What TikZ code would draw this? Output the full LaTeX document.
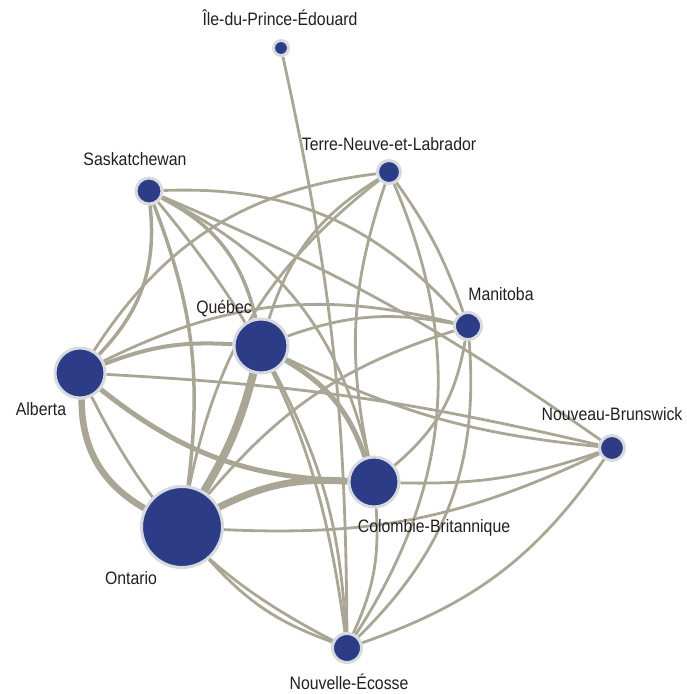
\documentclass[tikz,border=0pt]{standalone}
\usepackage{fontspec}
\setmainfont{Liberation Sans}[FakeStretch=0.88]
\usetikzlibrary{backgrounds}
\definecolor{edgegray}{RGB}{170,166,150}
\definecolor{nodeblue}{RGB}{44,60,135}
\definecolor{ringgray}{RGB}{214,218,222}
\definecolor{labelink}{RGB}{35,31,32}
\begin{document}
\begin{tikzpicture}[x=1pt,y=-1pt,
  prov/.style={circle,fill=nodeblue,draw=ringgray,line width=3pt,inner sep=0pt,minimum size=#1},
  lbl/.style={font=\fontsize{18}{18}\selectfont,text=labelink,inner sep=0pt,anchor=base},
  link/.style={draw=edgegray,line width=#1},
  link/.default=2.8pt]
\useasboundingbox (0,0) rectangle (686,694);

% provinces
\node[prov=15pt] (pe) at (281,48) {};
\node[prov=23pt] (tn) at (389,172) {};
\node[prov=26pt] (sk) at (149,191) {};
\node[prov=27pt] (mb) at (468,326) {};
\node[prov=54pt] (qc) at (261,346) {};
\node[prov=50pt] (ab) at (80,373) {};
\node[prov=25pt] (nb) at (612,448) {};
\node[prov=50pt] (bc) at (374,482) {};
\node[prov=81pt] (on) at (182,527) {};
\node[prov=29pt] (ns) at (347,648) {};

% labels
\node[lbl] (pel) at (280,25) {Île-du-Prince-Édouard};
\node[lbl] (tnl) at (389,150) {Terre-Neuve-et-Labrador};
\node[lbl] (skl) at (135,165) {Saskatchewan};
\node[lbl] (mbl) at (501,300) {Manitoba};
\node[lbl] (qcl) at (224,313) {Québec};
\node[lbl] (abl) at (41,415) {Alberta};
\node[lbl] (nbl) at (612,420) {Nouveau-Brunswick};
\node[lbl] (bcl) at (434,532) {Colombie-Britannique};
\node[lbl] (onl) at (131,584) {Ontario};
\node[lbl] (nsl) at (349,689) {Nouvelle-Écosse};

% links between provinces
\begin{scope}[on background layer]
  % heavy links
  \draw[link=8pt] (qc) to[bend left=8] (on);
  \draw[link=6.5pt] (on) to[bend left=30] (ab);
  \draw[link=7pt] (on) to[bend left=15] (bc);
  \draw[link=5pt] (bc) to[bend left=18] (ab);
  \draw[link=5pt] (qc) to[bend left=20] (bc);
  \draw[link=4pt] (ab) to[bend left=12] (qc);
  \draw[link=3.5pt] (sk) to[bend left=25] (ab);
  % Saskatchewan
  \draw[link=3.5pt] (sk) to[bend left=14] (on);
  \draw[link=3.5pt] (sk) to[bend left=25] (qc);
  \draw[link] (sk) to[bend left=25] (bc);
  \draw[link] (sk) to[bend left=16] (ns);
  \draw[link] (sk) to[bend left=25] (mb);
  \draw[link] (sk) to[bend left=6] (nb);
  % Terre-Neuve-et-Labrador
  \draw[link] (ab) to[bend left=25] (tn);
  \draw[link] (qc) to[bend left=20] (tn);
  \draw[link] (on) to[bend left=20] (tn);
  \draw[link] (bc) to[bend left=15] (tn);
  \draw[link] (tn) to[bend left=28] (ns);
  \draw[link] (tn) to[bend left=8] (mb);
  % Manitoba
  \draw[link] (ab) to[bend left=20] (mb);
  \draw[link] (qc) to[bend left=15] (mb);
  \draw[link] (on) to[bend left=16] (mb);
  \draw[link] (mb) to[bend left=20] (bc);
  \draw[link] (mb) to[bend left=25] (ns);
  % Nouveau-Brunswick
  \draw[link] (ab) to[bend left=5] (nb);
  \draw[link] (qc) to[bend right=10] (nb);
  \draw[link] (nb) to[bend left=10] (bc);
  \draw[link] (nb) to[bend left=14] (on);
  \draw[link] (nb) to[bend left=18] (ns);
  % Nouvelle-Ecosse
  \draw[link] (bc) to[bend left=14] (ns);
  \draw[link] (ns) to[bend left=14] (on);
  \draw[link] (ns) to[bend left=18] (ab);
  \draw[link] (qc) to[bend left=12] (ns);
  % Ile-du-Prince-Edouard
  \draw[link] (pe) to[bend left=6] (ns);
\end{scope}
\end{tikzpicture}
\end{document}
